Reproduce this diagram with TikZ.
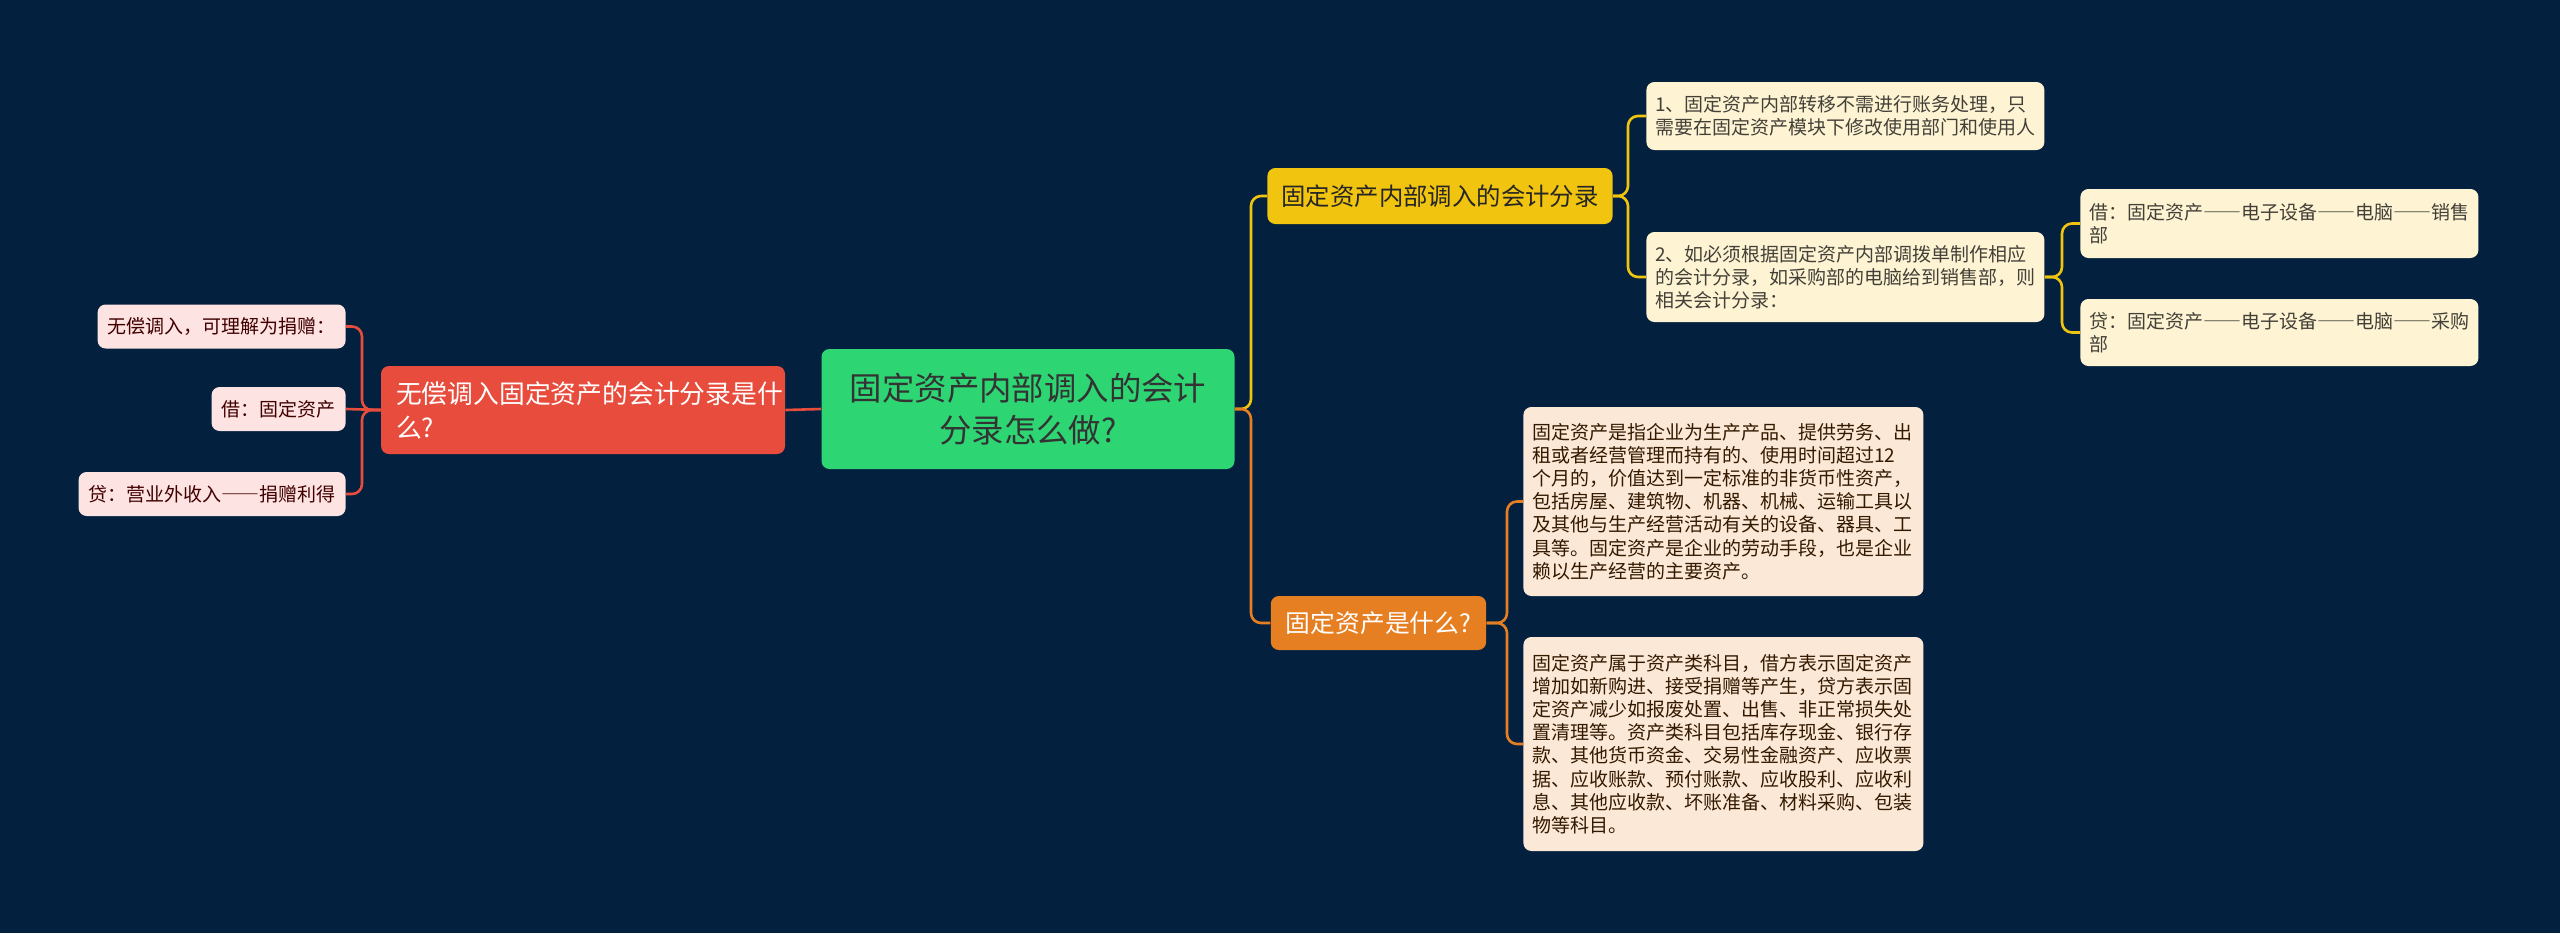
\documentclass[tikz,border=0pt]{standalone}
\usepackage{fontspec}
\setmainfont{Noto Sans CJK SC}
\newfontfamily\dashfont[RawFeature=+fwid]{Noto Sans CJK SC}
\usepackage{tikz}
\usetikzlibrary{positioning}
\definecolor{bgcol}{HTML}{03213F}
\definecolor{greencol}{HTML}{2ED573}
\definecolor{redcol}{HTML}{E84C3D}
\definecolor{yellowcol}{HTML}{F1C40F}
\definecolor{orangecol}{HTML}{E67E22}
\definecolor{pinkcol}{HTML}{FDE3E1}
\definecolor{creamcol}{HTML}{FEF4D4}
\definecolor{peachcol}{HTML}{FCE8D7}
\newcommand{\longdash}{{\dashfont ——}}
\tikzset{box/.style = {rounded corners = 4pt, inner ysep = 0pt}}
\tikzset{mainbox/.style = {box, fill = greencol, text = black!80, align = center, minimum width = 206.5pt, minimum height = 60pt, font = \fontsize{16.2}{21}\selectfont}}
\tikzset{redbox/.style = {box, fill = redcol, text = white, align = left, text width = 187pt, inner xsep = 7.5pt, minimum height = 44pt, font = \fontsize{12.9}{17}\selectfont}}
\tikzset{yellowbox/.style = {box, fill = yellowcol, text = black!85, inner xsep = 7pt, minimum height = 28pt, font = \fontsize{12.2}{15}\selectfont}}
\tikzset{orangebox/.style = {box, fill = orangecol, text = white, inner xsep = 7.5pt, minimum height = 27pt, font = \fontsize{12.4}{15}\selectfont}}
\tikzset{pinkleaf/.style = {box, fill = pinkcol, text = black!75!red, inner xsep = 5pt, minimum height = 22pt, anchor = east, font = \fontsize{9.5}{11.6}\selectfont}}
\tikzset{creamleaf/.style = {box, fill = creamcol, text = black!85!yellow, align = left, text width = 190pt, inner xsep = 4.5pt, anchor = west, font = \fontsize{9.5}{11.6}\selectfont}}
\tikzset{peachleaf/.style = {box, fill = peachcol, text = black!80!orange, align = left, text width = 191pt, inner xsep = 4.5pt, anchor = west, font = \fontsize{9.5}{11.6}\selectfont}}
\tikzset{redline/.style = {draw = redcol, line width = 1.3pt, rounded corners = 5pt}}
\tikzset{yellowline/.style = {draw = yellowcol, line width = 1.3pt, rounded corners = 5pt}}
\tikzset{orangeline/.style = {draw = orangecol, line width = 1.3pt, rounded corners = 5pt}}

\begin{document}
\begin{tikzpicture}[x = 0.5pt, y = -0.5pt]
	\fill[bgcol] (0, 0) rectangle (2560, 933);
	\useasboundingbox (0, 0) rectangle (2560, 933);

	% centre and branches
	\node[mainbox] (main) at (1028, 409) {固定资产内部调入的会计\\分录怎么做?};
	\node[redbox] (wuchang) at (583, 410) {无偿调入固定资产的会计分录是什\\么?};
	\node[yellowbox] (neibu) at (1440, 196) {固定资产内部调入的会计分录};
	\node[orangebox] (shenme) at (1378.5, 623) {固定资产是什么?};

	% left leaves
	\node[pinkleaf] (juanzeng) at (346, 326.5) {无偿调入，可理解为捐赠：};
	\node[pinkleaf] (jie) at (346, 409) {借：固定资产};
	\node[pinkleaf] (dai) at (346, 494) {贷：营业外收入\longdash 捐赠利得};

	% right leaves
	\node[creamleaf, minimum height = 34pt] (zhuanyi) at (1646, 116) {1、固定资产内部转移不需进行账务处理，只\\需要在固定资产模块下修改使用部门和使用人};
	\node[creamleaf, minimum height = 45pt] (diaobo) at (1646, 277) {2、如必须根据固定资产内部调拨单制作相应\\的会计分录，如采购部的电脑给到销售部，则\\相关会计分录：};
	\node[creamleaf, minimum height = 34.5pt] (jiefang) at (2080, 223.5) {借：固定资产\longdash 电子设备\longdash 电脑\longdash 销售\\部};
	\node[creamleaf, minimum height = 33.5pt] (daifang) at (2080, 332.5) {贷：固定资产\longdash 电子设备\longdash 电脑\longdash 采购\\部};
	\node[peachleaf, minimum height = 94.5pt] (dingyi) at (1523, 501.5) {固定资产是指企业为生产产品、提供劳务、出\\租或者经营管理而持有的、使用时间超过12\\个月的，价值达到一定标准的非货币性资产，\\包括房屋、建筑物、机器、机械、运输工具以\\及其他与生产经营活动有关的设备、器具、工\\具等。固定资产是企业的劳动手段，也是企业\\赖以生产经营的主要资产。};
	\node[peachleaf, minimum height = 107pt] (kemu) at (1523, 744) {固定资产属于资产类科目，借方表示固定资产\\增加如新购进、接受捐赠等产生，贷方表示固\\定资产减少如报废处置、出售、非正常损失处\\置清理等。资产类科目包括库存现金、银行存\\款、其他货币资金、交易性金融资产、应收票\\据、应收账款、预付账款、应收股利、应收利\\息、其他应收款、坏账准备、材料采购、包装\\物等科目。};

	% junctions
	\coordinate (jleft) at (362, 410);
	\coordinate (jright) at (1251, 409);
	\coordinate (jneibu) at (1628, 196);
	\coordinate (jdiaobo) at (2062, 277);
	\coordinate (jshenme) at (1507, 623);

	\draw[redline] (main.west) -- (wuchang.east);
	\draw[redline] (wuchang.west) -- (jleft) |- (juanzeng.east);
	\draw[redline] (wuchang.west) -- (jie.east);
	\draw[redline] (wuchang.west) -- (jleft) |- (dai.east);
	\draw[yellowline] (main.east) -- (jright) |- (neibu.west);
	\draw[orangeline] (main.east) -- (jright) |- (shenme.west);
	\draw[yellowline] (neibu.east) -- (jneibu) |- (zhuanyi.west);
	\draw[yellowline] (neibu.east) -- (jneibu) |- (diaobo.west);
	\draw[yellowline] (diaobo.east) -- (jdiaobo) |- (jiefang.west);
	\draw[yellowline] (diaobo.east) -- (jdiaobo) |- (daifang.west);
	\draw[orangeline] (shenme.east) -- (jshenme) |- (dingyi.west);
	\draw[orangeline] (shenme.east) -- (jshenme) |- (kemu.west);
\end{tikzpicture}
\end{document}
